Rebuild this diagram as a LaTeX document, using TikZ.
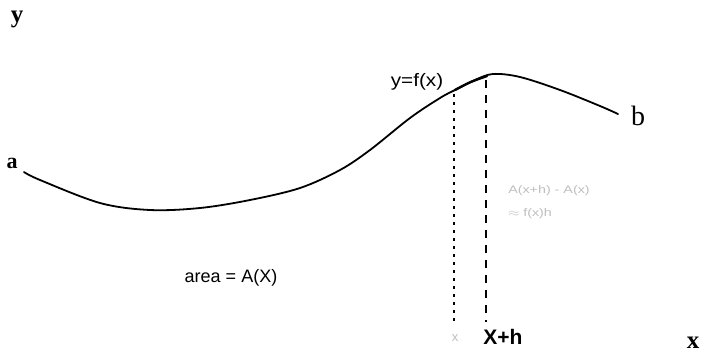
\documentclass[tikz,border=0pt]{standalone}
\usepackage{fontspec}
\setmainfont{Liberation Serif}
\setsansfont{Liberation Sans}
\begin{document}
\begin{tikzpicture}[x=1pt,y=-1pt,
  axislabel/.style={font=\rmfamily\bfseries\fontsize{25}{25}\selectfont, inner sep=0pt},
  sanslabel/.style={font=\sffamily\fontsize{18}{18}\selectfont, inner sep=0pt},
  faintlabel/.style={font=\sffamily\fontsize{11}{11}\selectfont, inner sep=0pt, text=black!25},
  curve/.style={line width=1.8pt, line cap=round, line join=round},
  guide/.style={line width=1.6pt, dash pattern=on 8pt off 7pt},
  thinguide/.style={line width=1.1pt, dash pattern=on 3pt off 5pt}]
\useasboundingbox (0,0) rectangle (701,356);
\fill[white] (0,0) rectangle (701,356);
% curve
\draw[curve] plot[smooth, tension=0.55] coordinates {(24,172) (40,180) (100,203) (150,210) (200,208) (250,200) (300,188) (340,170) (370,150) (410,118) (440,98) (455,90) (475,80) (493,74) (520,77) (560,90) (600,106) (618,114)};
% labels
\node[axislabel] (ylab) at (17,19) {y};
\node[axislabel, font=\rmfamily\bfseries\fontsize{22}{22}\selectfont] (alab) at (12,163) {a};
\node[font=\rmfamily\fontsize{28}{28}\selectfont, inner sep=0pt] (blab) at (638,116) {b};
\node[axislabel] (xlab) at (693,343) {x};
\node[sanslabel, xscale=1.15] (fx) at (417,82) {y=f(x)};
\node[sanslabel] (area) at (231,278) {area = A(X)};
\node[font=\sffamily\bfseries\fontsize{21}{21}\selectfont, inner sep=0pt] (xh) at (503,337) {X+h};
\node[faintlabel, font=\sffamily\fontsize{13}{13}\selectfont] (xfaint) at (455,338) {x};
\node[faintlabel, anchor=west, xscale=1.3] (diff) at (508,191) {A(x+h) - A(x)};
\node[faintlabel, anchor=west, xscale=1.3] (approx) at (508,214) {$\approx$ f(x)h};
% guide lines
\coordinate (p1) at (454,94);
\coordinate (q1) at (454,325);
\coordinate (p2) at (486,80);
\coordinate (q2) at (486,322);
\draw[thinguide] (p1) -- (q1);
\draw[guide] (p2) -- (q2);
\draw[line width=2.4pt, line cap=round] (455,90) .. controls (470,82) .. (487,76);
\end{tikzpicture}
\end{document}
